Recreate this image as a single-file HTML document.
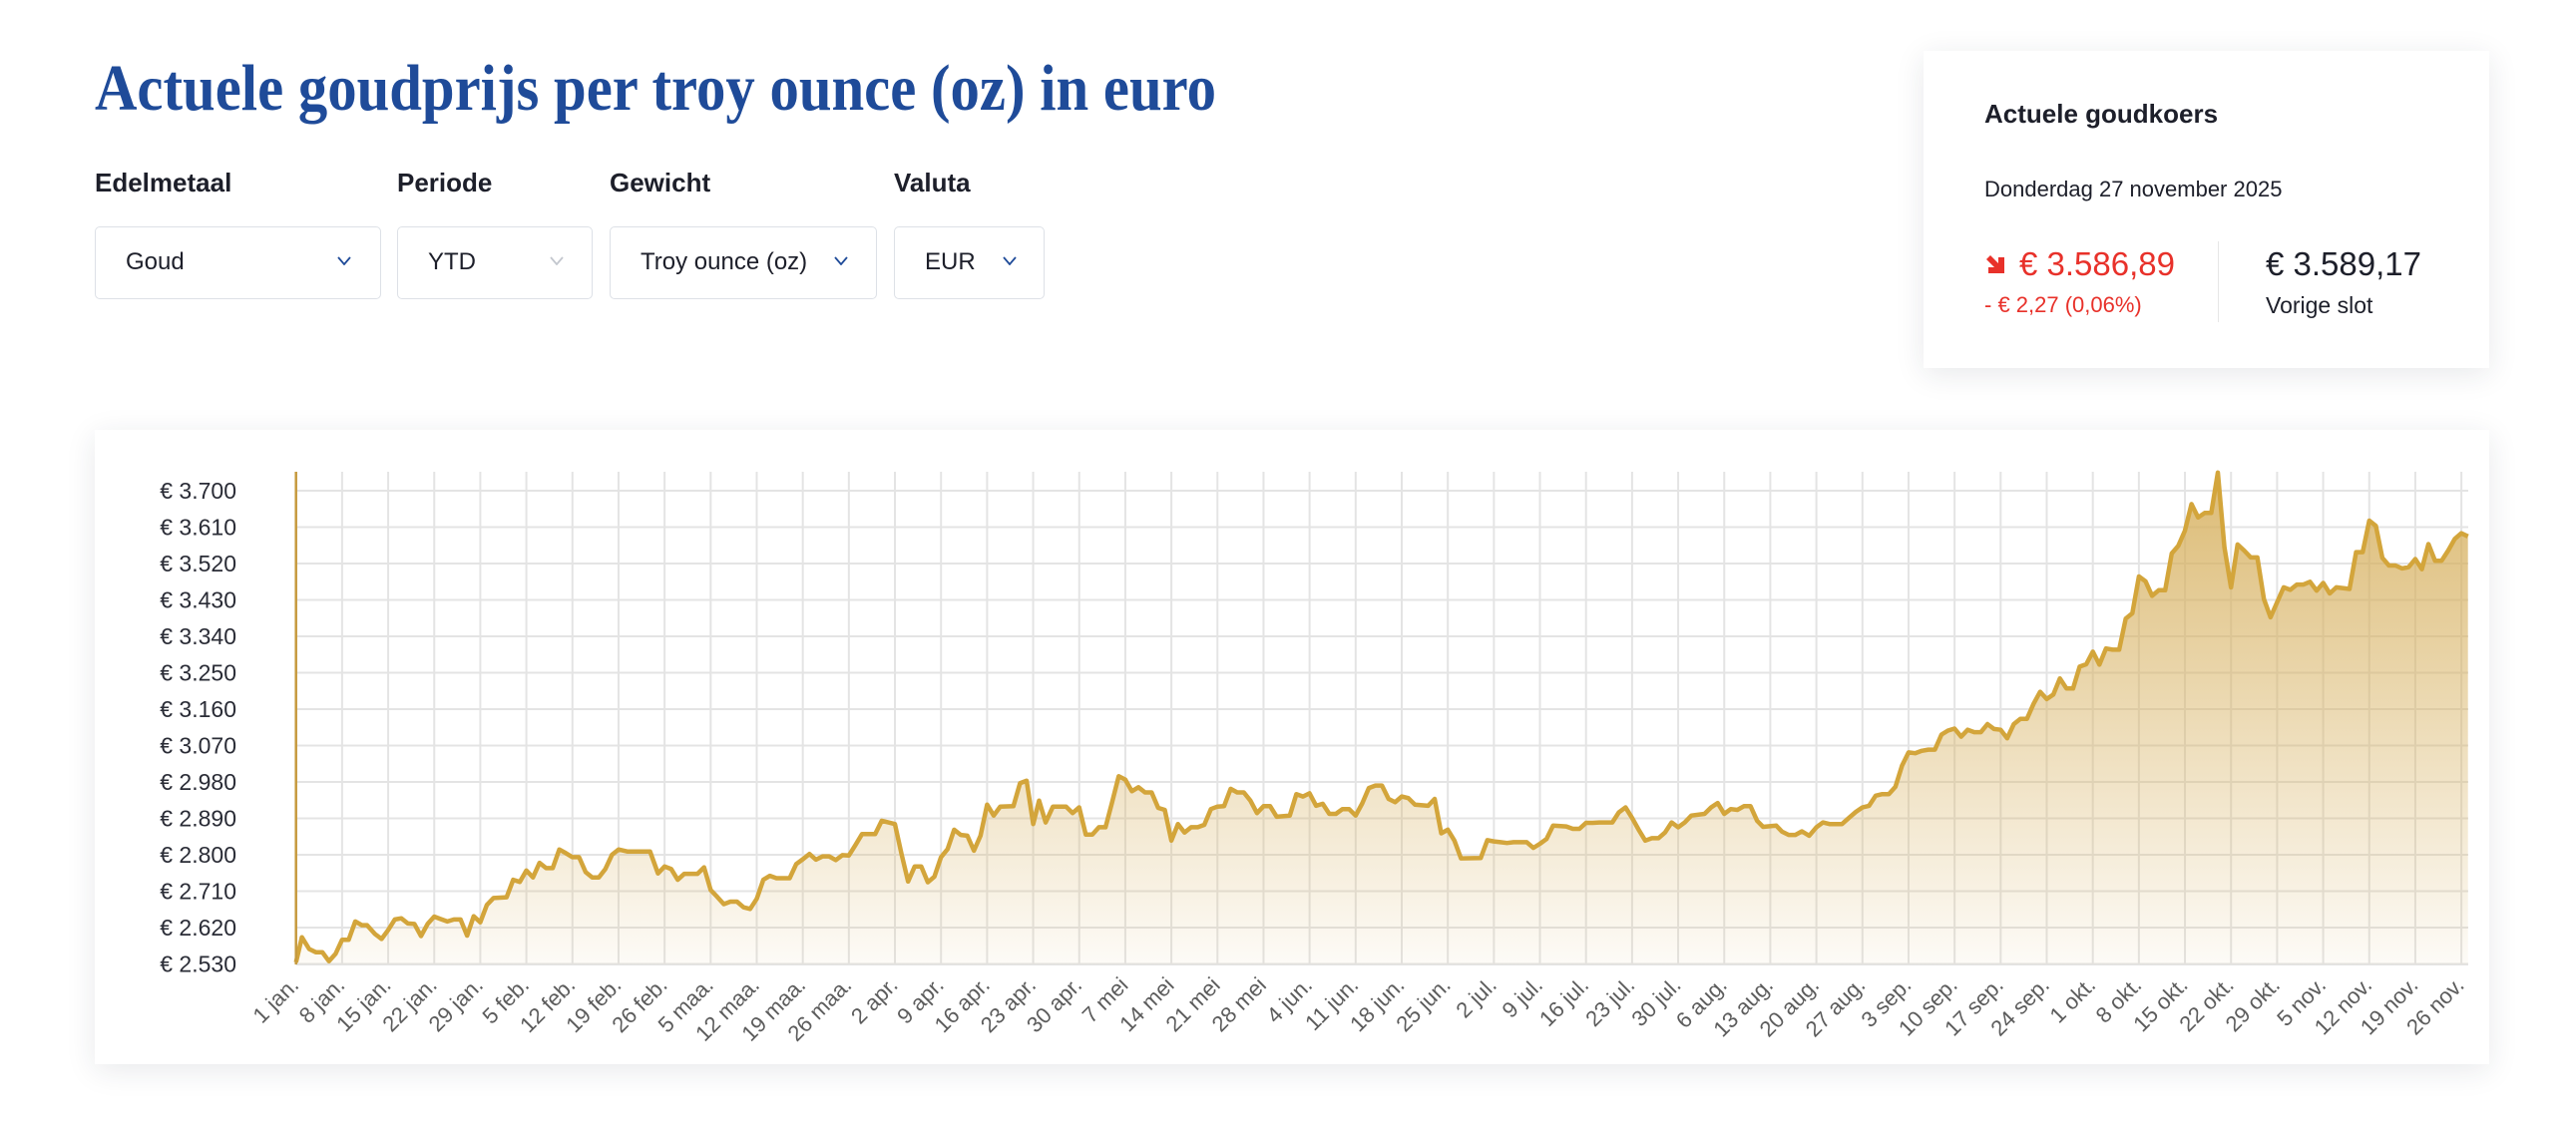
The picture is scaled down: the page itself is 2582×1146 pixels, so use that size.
<!DOCTYPE html>
<html><head><meta charset="utf-8"><style>
body{margin:0;width:2582px;height:1146px;background:#fff;position:relative;overflow:hidden;font-family:"Liberation Sans",sans-serif}
.abs{position:absolute}
.lbl{font-weight:bold;font-size:26px;color:#1d1f2a;top:168px}
.dd{top:227px;height:73px;border:1.5px solid #dde1e7;border-radius:5px;box-sizing:border-box;font-size:24px;color:#1d1f2a;line-height:70px;padding-left:30px}
.chev{position:absolute;top:29px;width:14px;height:9px}
.card{background:#fff;box-shadow:0 6px 28px rgba(30,40,60,0.10)}
</style></head><body>
<svg class="abs" style="left:0;top:0" width="1300" height="140">
<text x="95" y="110" font-family="'Liberation Serif',serif" font-weight="bold" font-size="66" fill="#1f4b99" textLength="1124" lengthAdjust="spacingAndGlyphs">Actuele goudprijs per troy ounce (oz) in euro</text>
</svg>
<div class="abs lbl" style="left:95px">Edelmetaal</div>
<div class="abs lbl" style="left:398px">Periode</div>
<div class="abs lbl" style="left:611px">Gewicht</div>
<div class="abs lbl" style="left:896px">Valuta</div>
<div class="abs dd" style="left:95px;width:287px">Goud<svg class="chev" style="left:242px" viewBox="0 0 14 9"><path d="M1 1L7 8L13 1" fill="none" stroke="#1f4b99" stroke-width="1.8"/></svg></div>
<div class="abs dd" style="left:398px;width:196px">YTD<svg class="chev" style="left:152px" viewBox="0 0 14 9"><path d="M1 1L7 8L13 1" fill="none" stroke="#c3c7ce" stroke-width="1.8"/></svg></div>
<div class="abs dd" style="left:611px;width:268px">Troy ounce (oz)<svg class="chev" style="left:224px" viewBox="0 0 14 9"><path d="M1 1L7 8L13 1" fill="none" stroke="#1f4b99" stroke-width="1.8"/></svg></div>
<div class="abs dd" style="left:896px;width:151px">EUR<svg class="chev" style="left:108px" viewBox="0 0 14 9"><path d="M1 1L7 8L13 1" fill="none" stroke="#1f4b99" stroke-width="1.8"/></svg></div>

<div class="abs card" style="left:1928px;top:51px;width:567px;height:318px">
<div class="abs" style="left:61px;top:48px;font-size:26px;font-weight:bold;color:#1d1f2a">Actuele goudkoers</div>
<div class="abs" style="left:61px;top:126px;font-size:22px;color:#1d1f2a">Donderdag 27 november 2025</div>
<svg class="abs" style="left:61px;top:203px" width="22" height="22" viewBox="0 0 22 22"><path d="M2 6L6 2L14 10V4H20V20H4V14H10Z" fill="#e8312a"/></svg>
<div class="abs" style="left:96px;top:195px;font-size:33px;color:#e8312a">€ 3.586,89</div>
<div class="abs" style="left:61px;top:242px;font-size:22px;color:#e8312a">- € 2,27 (0,06%)</div>
<div class="abs" style="left:295px;top:191px;width:1px;height:81px;background:#e6e6e6"></div>
<div class="abs" style="left:343px;top:195px;font-size:33px;color:#1d1f2a">€ 3.589,17</div>
<div class="abs" style="left:343px;top:242px;font-size:23px;color:#1d1f2a">Vorige slot</div>
</div>

<div class="abs card" style="left:95px;top:431px;width:2400px;height:636px"></div>
<svg id="chart" class="abs" style="left:0;top:0" width="2582" height="1146">
<defs><linearGradient id="gf" x1="0" y1="473" x2="0" y2="967" gradientUnits="userSpaceOnUse">
<stop offset="0" stop-color="#d6af5c" stop-opacity="0.85"/><stop offset="1" stop-color="#d6af5c" stop-opacity="0.05"/></linearGradient></defs>
<g id="grid"></g><g id="series"></g><g id="axes"></g>
</svg>
<script>
const yTicks=[3700,3610,3520,3430,3340,3250,3160,3070,2980,2890,2800,2710,2620,2530];
const xTickLabels=["1 jan.","8 jan.","15 jan.","22 jan.","29 jan.","5 feb.","12 feb.","19 feb.","26 feb.","5 maa.","12 maa.","19 maa.","26 maa.","2 apr.","9 apr.","16 apr.","23 apr.","30 apr.","7 mei","14 mei","21 mei","28 mei","4 jun.","11 jun.","18 jun.","25 jun.","2 jul.","9 jul.","16 jul.","23 jul.","30 jul.","6 aug.","13 aug.","20 aug.","27 aug.","3 sep.","10 sep.","17 sep.","24 sep.","1 okt.","8 okt.","15 okt.","22 okt.","29 okt.","5 nov.","12 nov.","19 nov.","26 nov."];
const xTickDays=[0,7,14,21,28,35,42,49,56,63,70,77,84,91,98,105,112,119,126,133,140,147,154,161,168,175,182,189,196,203,210,217,224,231,238,245,252,259,266,273,280,287,294,301,308,315,322,329];
const days=[0,0.9,2,3,4,5,6,7,8,9,10,10.8,12,13,14,15,16,17,18,19,20,21,22,23,24,25,26,27,28,29,30,32,33,34,35,36,37,38,39,40,41,42,43,44,45,46,47,48,49,50.4,53.8,55,56,57,58,59,61,62,63,64,65,66,67,68,69,70,71,72,73,75,76,77,78,79,80,81,82,83,84,85,86,88,89,91,92,93,94,95,96,97,98,99,100,101,102,103,104,105,106,107,109,110,111,112,112.9,113.9,115,117,118,119,120,121,122,123,124,125,126,127,128,129,130,131,132,133,134,135,136,137,138,139,140,141,142,143,144,145,146,147,148,149,151,152,153,154,155,156,157,158,159,160,161,162,163,164,165,166,167,168,169,170,172,173,174,175,176,177,180,181,182,183,184,185,187,188,189,190,191,193,194,195,196,197,198,200,201,202,203,204,205,206,207,208,209,210,211,212,214,215,216,217,218,219,220,221,222,222.9,224.9,225.8,226.8,227.8,228.8,229.9,231,232,233,234.9,236,237,238,239,240,241,242,243,244,245,246,247,248,249,250,251,252,253,254,255,256,257,258,259,260,261,262,263,264,265,266,267,268,269,270,271,272,273,274,275,276,277,278,279,280,281,282,283,284,285,286,287,288,289,290,291,292,293,294,295,296,297,298,299,300,301,302,303,304,305,306,307,308,309,310,312,313,314,315,316,317,318,319,320,321,322,323,324,325,326,327,328,329,330];
const prices=[2534,2596,2567,2559,2559,2537,2555,2590,2590,2635,2626,2626,2604,2592,2614,2640,2643,2630,2629,2599,2629,2647,2641,2635,2640,2640,2600,2648,2633,2676,2693,2695,2738,2733,2761,2744,2780,2767,2767,2813,2804,2794,2794,2757,2744,2744,2765,2800,2813,2808,2808,2754,2771,2765,2738,2753,2753,2769,2713,2696,2678,2684,2684,2670,2666,2691,2738,2748,2742,2742,2777,2789,2802,2788,2796,2796,2787,2799,2798,2824,2851,2851,2884,2876,2802,2734,2771,2771,2732,2746,2794,2814,2862,2849,2847,2810,2847,2924,2897,2919,2920,2977,2983,2876,2934,2880,2919,2919,2903,2917,2850,2850,2868,2868,2930,2994,2986,2957,2967,2954,2954,2916,2911,2835,2876,2855,2868,2868,2874,2913,2919,2920,2963,2954,2954,2934,2903,2920,2920,2894,2897,2950,2944,2952,2921,2926,2901,2901,2913,2913,2897,2927,2965,2971,2971,2938,2930,2944,2940,2924,2921,2938,2853,2862,2835,2791,2792,2836,2833,2831,2829,2831,2831,2817,2827,2839,2872,2870,2864,2864,2879,2879,2880,2880,2905,2917,2891,2862,2835,2841,2841,2855,2880,2868,2880,2897,2901,2917,2928,2901,2913,2911,2920,2920,2884,2869,2872,2857,2849,2849,2858,2847,2868,2880,2876,2876,2892,2906,2917,2921,2946,2950,2950,2968,3020,3053,3051,3057,3060,3060,3097,3107,3112,3092,3109,3103,3103,3123,3111,3109,3088,3123,3136,3136,3173,3203,3185,3196,3236,3211,3211,3265,3271,3302,3270,3310,3307,3307,3384,3397,3488,3476,3440,3454,3454,3545,3564,3601,3667,3634,3645,3645,3745,3560,3461,3567,3552,3535,3535,3432,3387,3424,3461,3455,3468,3468,3475,3453,3472,3446,3461,3457,3548,3548,3626,3613,3534,3515,3515,3508,3511,3531,3506,3568,3527,3527,3552,3581,3595,3587];

const NS='http://www.w3.org/2000/svg';
const X0=296.7, DAYPX=6.597, Y3700=492, PX90=36.5, PTOP=473, PBOT=967, PRIGHT=2474;
function xs(d){return X0+d*DAYPX;}
function ys(v){return Y3700+(3700-v)*PX90/90;}
function mk(tag,attrs,parent){const e=document.createElementNS(NS,tag);for(const k in attrs)e.setAttribute(k,attrs[k]);parent.appendChild(e);return e;}
const grid=document.getElementById('grid'),series=document.getElementById('series'),axes=document.getElementById('axes');
yTicks.forEach(v=>{
  const l=mk('line',{x1:X0,x2:PRIGHT,y1:ys(v),y2:ys(v),stroke:'#e4e4e4','stroke-width':2},grid);
  
  
  const t=mk('text',{x:237,y:ys(v),'text-anchor':'end','dominant-baseline':'central','font-size':23,fill:'#2a2c36','font-family':'Liberation Sans, sans-serif'},axes);
  t.textContent='€ '+v.toLocaleString('de-DE');
  
  
});
xTickDays.forEach((d,i)=>{
  const x=xs(d);
  const l=mk('line',{x1:x,x2:x,y1:PTOP,y2:PBOT,stroke:'#e4e4e4','stroke-width':2},grid);
  
  
  const t=mk('text',{x:x+4,y:PBOT+22,'text-anchor':'end','font-size':22,fill:'#5c5c5c','font-family':'Liberation Sans, sans-serif',transform:`rotate(-45 ${x+4} ${PBOT+22})`},axes);
  t.textContent=xTickLabels[i];
  
  
});
const bl=mk('line',{x1:X0,x2:PRIGHT,y1:PBOT,y2:PBOT,stroke:'#e4e4e4','stroke-width':2},grid);


let pts=days.map((d,i)=>xs(d).toFixed(1)+','+ys(prices[i]).toFixed(1));
const area=mk('path',{d:'M'+xs(days[0])+','+PBOT+' L'+pts.join(' L')+' L'+xs(days[days.length-1])+','+PBOT+' Z',fill:'url(#gf)'},series);


const line=mk('path',{d:'M'+pts.join(' L'),fill:'none',stroke:'#d3a53b','stroke-width':4.5,'stroke-linejoin':'round'},series);


const ya=mk('line',{x1:X0,x2:X0,y1:PTOP,y2:PBOT,stroke:'#c69a3e','stroke-width':2.5},axes);


</script>
</body></html>
